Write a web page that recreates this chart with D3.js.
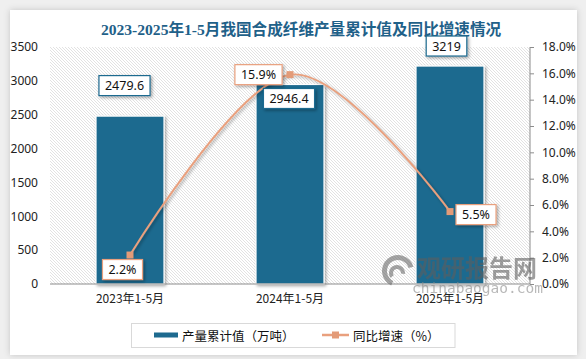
<!DOCTYPE html>
<html><head><meta charset="utf-8">
<script src="https://cdn.jsdelivr.net/npm/d3@7/dist/d3.min.js"></script>
<style>
html,body{margin:0;padding:0;background:#efefef;}
svg{display:block;}
text{font-family:"Noto Sans CJK SC","Noto Sans",sans-serif;}
</style></head>
<body>
<svg id="chart" width="586" height="359"></svg>
<script>
const title = "2023-2025年1-5月我国合成纤维产量累计值及同比增速情况";
const categories = ["2023年1-5月", "2024年1-5月", "2025年1-5月"];
const outputValues = [2479.6, 2946.4, 3219];
const growthValues = [2.2, 15.9, 5.5];
const leftTicks = [0, 500, 1000, 1500, 2000, 2500, 3000, 3500];
const rightTicks = [0, 2, 4, 6, 8, 10, 12, 14, 16, 18];
const legendLabels = ["产量累计值（万吨）", "同比增速（%）"];

// layout / style (not data)
const barColor = "#1d6a8f", lineColor = "#e9a07e", markerColor = "#e39b78";
const barLabelOffsets = [[-5.5, -30.5], [-1, 14], [-3.5, -20]];
const lineLabelOffsets = [[-7.5, 14.5], [-31.5, 0], [26, 3]];

const svg = d3.select("#chart");
const defs = svg.append("defs");
const sh = defs.append("filter").attr("id","shadow").attr("x","-30%").attr("y","-30%").attr("width","160%").attr("height","160%");
sh.append("feDropShadow").attr("dx",1.5).attr("dy",1.5).attr("stdDeviation",1.8).attr("flood-color","#000").attr("flood-opacity",0.35);
const cs = defs.append("filter").attr("id","cardshadow").attr("x","-10%").attr("y","-10%").attr("width","120%").attr("height","120%");
cs.append("feDropShadow").attr("dx",0).attr("dy",0).attr("stdDeviation",3).attr("flood-color","#000").attr("flood-opacity",0.18);
const pat = defs.append("pattern").attr("id","hatch").attr("patternUnits","userSpaceOnUse").attr("width",3).attr("height",3);
pat.append("rect").attr("width",3).attr("height",3).attr("fill","#fff");
pat.append("path").attr("d","M-1,-1 L4,4 M-1,2 L1,4 M2,-1 L4,1").attr("stroke","#d6d6d6").attr("stroke-width",0.7);

// card
svg.append("rect").attr("x",10).attr("y",10).attr("width",567).attr("height",345).attr("fill","#fff").attr("filter","url(#cardshadow)");

const plot = {left:50, right:530, top:47, bottom:284};
const x = d3.scaleBand().domain(categories).range([plot.left, plot.right]).paddingInner(0.575).paddingOuter(0.2875);
const yL = d3.scaleLinear().domain([0, 3500]).range([plot.bottom, plot.top]);
const yR = d3.scaleLinear().domain([0, 18]).range([plot.bottom, plot.top]);

// plot background hatch
svg.append("rect").attr("x",plot.left).attr("y",plot.top).attr("width",plot.right-plot.left).attr("height",plot.bottom-plot.top).attr("fill","url(#hatch)");

// title
svg.append("text").attr("x",301).attr("y",35).attr("text-anchor","middle")
  .attr("font-size","15.6px").attr("font-weight","bold").attr("fill","#1f6189")
  .style("font-family","'Liberation Serif','Noto Sans CJK SC',serif").text(title);

// left axis
const gL = svg.append("g").attr("transform",`translate(${plot.left},0)`)
  .call(d3.axisLeft(yL).tickValues(leftTicks).tickSize(0).tickPadding(12).tickFormat(d3.format("d")));
gL.select(".domain").remove();
gL.selectAll("text").attr("font-size","12px").attr("fill","#222").style("font-family","'Noto Sans','Open Sans',sans-serif");

// right axis
const gR = svg.append("g").attr("transform",`translate(${plot.right},0)`)
  .call(d3.axisRight(yR).tickValues(rightTicks).tickSize(4).tickPadding(8).tickFormat(d => d.toFixed(1) + "%"));
gR.select(".domain").attr("stroke","#8c8c8c").attr("d",`M0,${plot.top}V${plot.bottom}`);
gR.selectAll("line").attr("stroke","#8c8c8c");
gR.selectAll("text").attr("font-size","12px").attr("fill","#222").style("font-family","'Noto Sans','Open Sans',sans-serif");

// bars
svg.append("g").selectAll("rect").data(outputValues).join("rect")
  .attr("x",(d,i)=>x(categories[i])).attr("width",x.bandwidth())
  .attr("y",d=>yL(d)).attr("height",d=>yL(0)-yL(d))
  .attr("fill",barColor).attr("stroke","#fff").attr("stroke-width",1.2).attr("filter","url(#shadow)");

// bottom axis
const gB = svg.append("g").attr("transform",`translate(0,${plot.bottom})`)
  .call(d3.axisBottom(x).tickSize(0).tickPadding(10));
gB.select(".domain").attr("stroke","#8c8c8c").attr("d",`M${plot.left},0H${plot.right}`);
gB.selectAll("text").attr("font-size","12px").attr("fill","#222");

// watermark
const wm = svg.append("g").attr("opacity",0.6).attr("fill","#6a6a6a");
wm.append("path").attr("d",d3.arc()({innerRadius:11,outerRadius:16,startAngle:-2.7,endAngle:1.3})).attr("transform","translate(398,271)");
wm.append("path").attr("d",d3.arc()({innerRadius:4,outerRadius:8,startAngle:-2.2,endAngle:1.7})).attr("transform","translate(397,273)");
wm.append("text").attr("x",417).attr("y",277).attr("font-size","24px").attr("font-weight","bold").attr("fill","#5e5e5e").text("观研报告网");
wm.append("text").attr("x",412).attr("y",293).attr("font-size","14.5px").attr("fill","#8a8a8a").style("font-family","'DejaVu Sans Mono',monospace").text("chinabaogao.com");

// line
const pts = growthValues.map((d,i)=>[x(categories[i])+x.bandwidth()/2, yR(d)]);
svg.append("path").attr("d",d3.line().curve(d3.curveCardinal.tension(0))(pts))
  .attr("fill","none").attr("stroke",lineColor).attr("stroke-width",2).attr("filter","url(#shadow)");
svg.append("g").selectAll("rect").data(pts).join("rect")
  .attr("x",d=>d[0]-3.5).attr("y",d=>d[1]-3.5).attr("width",7).attr("height",7).attr("fill",markerColor);

// labels
function labelBox(cx, cy, txt, stroke){
  const g = svg.append("g");
  const t = g.append("text").attr("x",cx).attr("y",cy).attr("text-anchor","middle").attr("dominant-baseline","central")
    .attr("font-size","12.5px").attr("fill","#111").style("font-family","'Noto Sans','Open Sans',sans-serif").text(txt);
  const bb = t.node().getBBox();
  g.insert("rect","text").attr("x",cx-bb.width/2-6).attr("y",cy-10).attr("width",bb.width+12).attr("height",20)
    .attr("fill","#fff").attr("stroke",stroke).attr("stroke-width",1.2).attr("filter","url(#shadow)");
}
outputValues.forEach((d,i)=>{
  labelBox(x(categories[i])+x.bandwidth()/2+barLabelOffsets[i][0], yL(d)+barLabelOffsets[i][1], String(d), barColor);
});
growthValues.forEach((d,i)=>{
  labelBox(pts[i][0]+lineLabelOffsets[i][0], pts[i][1]+lineLabelOffsets[i][1], d.toFixed(1)+"%", lineColor);
});

// legend
const lg = svg.append("g");
lg.append("rect").attr("x",131.5).attr("y",323.5).attr("width",323.5).attr("height",24).attr("fill","#fff").attr("stroke","#d9d9d9");
lg.append("rect").attr("x",154).attr("y",332.5).attr("width",24).attr("height",5).attr("fill",barColor);
lg.append("text").attr("x",182).attr("y",335.5).attr("dominant-baseline","central").attr("font-size","12.5px").attr("fill","#111").text(legendLabels[0]);
lg.append("line").attr("x1",322).attr("x2",349).attr("y1",335).attr("y2",335).attr("stroke",lineColor).attr("stroke-width",2.5);
lg.append("rect").attr("x",332).attr("y",331.5).attr("width",7).attr("height",7).attr("fill",markerColor);
lg.append("text").attr("x",353).attr("y",335.5).attr("dominant-baseline","central").attr("font-size","12.5px").attr("fill","#111").text(legendLabels[1]);
</script>
</body></html>
